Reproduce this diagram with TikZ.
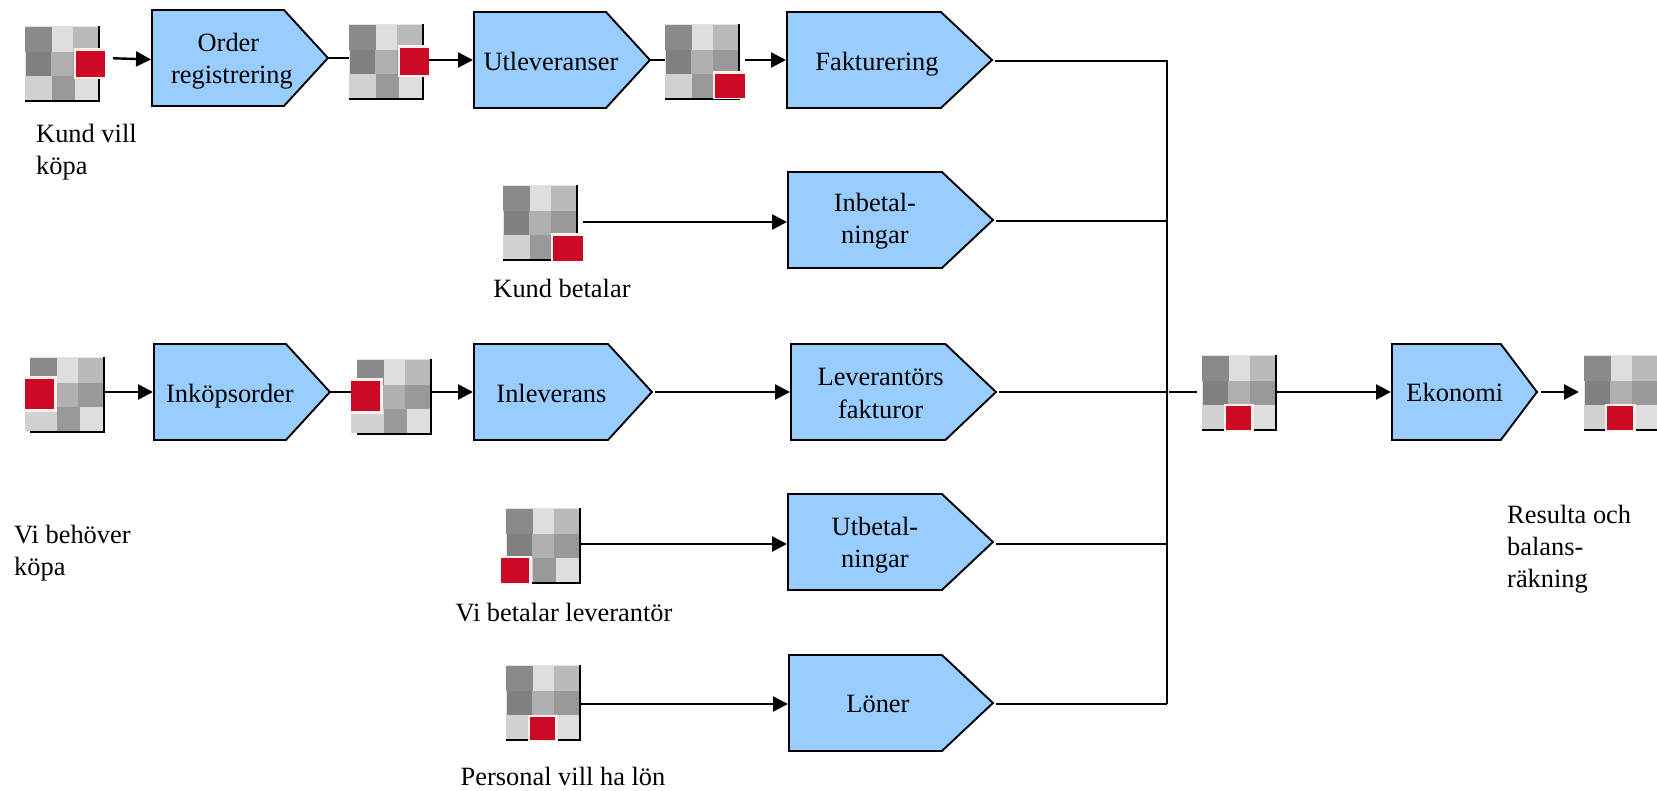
\documentclass[tikz,border=0pt]{standalone}
\usepackage{fontspec}
\setmainfont{Liberation Serif}
\usetikzlibrary{arrows.meta,shapes.symbols,fit}
\definecolor{blockblue}{HTML}{99CCFF}
\definecolor{iconred}{HTML}{CC0A26}
\definecolor{halo}{HTML}{FFF0EC}
\tikzset{
  x=1pt,y=-1pt,
  txt/.style={font=\fontsize{26.4}{32}\selectfont,inner sep=0pt,align=left},
  block/.style={signal,signal to=east,draw=black,fill=blockblue,line width=1.9pt,
    minimum height=96pt,inner sep=0pt,anchor=west,
    font=\fontsize{26.4}{32}\selectfont,line join=miter},
  link/.style={draw=black,line width=2.4pt},
  arr/.style={link,-{Triangle[length=15pt,width=15pt]}},
  iconnode/.style={inner sep=0pt,outer sep=0pt},
}
% text of a block: #1 shift right of the body centre, #2 height of first baseline above the axis, #3 lines
\newcommand{\blocktext}[3]{\raisebox{#2}[0pt][0pt]{\makebox[0pt][c]{\hspace*{\dimexpr 2\dimexpr #1\relax\relax}\begin{tabular}[t]{@{}c@{}}#3\end{tabular}}}}
% #1 name, #2 grid x, #3 grid y, #4,#5 red corner, #6,#7 red opposite corner
\newcommand{\riskicon}[7]{%
  \begin{scope}[shift={(#2,#3)}]
    \fill[gray!22] (0,0) rectangle (74,75);
    \fill[black!46] (0,1) rectangle (27,26);
    \fill[black!13] (27,1) rectangle (48,26);
    \fill[black!27] (48,1) rectangle (74,26);
    \fill[black!50] (1,26) rectangle (26,50);
    \fill[black!31] (26,26) rectangle (48,50);
    \fill[black!40] (48,26) rectangle (74,50);
    \fill[black!18] (0,50) rectangle (27,75);
    \fill[black!40] (27,50) rectangle (50,75);
    \fill[black!13] (50,50) rectangle (74,75);
    \draw[black,line width=1.8pt] (74,0) -- (74,75) -- (0,75);
  \end{scope}
  \node[iconnode,fit={(#2,#3) (#2+74,#3+75) (#4,#5) (#6,#7)}] (#1) {};
  \begin{scope}
    \clip (#1.north west) rectangle (#1.south east);
    \fill[halo] (#4-2.5,#5-2.5) rectangle (#6+2.5,#7+2.5);
    \fill[iconred] (#4,#5) rectangle (#6,#7);
  \end{scope}
}
\begin{document}
\begin{tikzpicture}
\useasboundingbox (0,0) rectangle (1657,791);
% extra light tile at the lower left of the two left-red icons
\fill[black!18] (25,409) rectangle (31,431);
\fill[black!18] (351,411) rectangle (358,433);
% icons
\riskicon{iA}{25}{26}{76}{51}{105}{77}
\riskicon{iB}{349}{24}{400}{48}{429}{75}
\riskicon{iC}{665}{24}{715}{74}{745}{98}
\riskicon{iD}{503}{185}{553}{236}{583}{261}
\riskicon{iE}{30}{357}{25}{379}{54}{409}
\riskicon{iF}{357}{359}{351}{381}{380}{411}
\riskicon{iG}{1202}{355}{1226}{406}{1251}{430}
\riskicon{iH}{1584}{355}{1607}{406}{1633}{430}
\riskicon{iI}{506}{508}{501}{558}{529}{583}
\riskicon{iJ}{506}{665}{530}{717}{555}{740}
% blocks
\node[block,minimum width=176pt,signal pointer angle=95] (bOrder) at (151,58) {\blocktext{14pt}{6pt}{Order\hspace*{7pt}\\registrering}};
\node[block,minimum width=176pt,signal pointer angle=95] (bUtlev) at (473,60) {\blocktext{11pt}{-10.5pt}{Utleveranser}};
\node[block,minimum width=205pt,signal pointer angle=86.5] (bFakt) at (786,60) {\blocktext{13pt}{-10.5pt}{Fakturering}};
\node[block,minimum width=205pt,signal pointer angle=86.5] (bInbet) at (787,220) {\blocktext{10pt}{8pt}{Inbetal-\\ningar}};
\node[block,minimum width=176pt,signal pointer angle=95] (bInkop) at (153,392) {\blocktext{10pt}{-10pt}{Inköpsorder}};
\node[block,minimum width=178pt,signal pointer angle=95] (bInlev) at (473,392) {\blocktext{10.5pt}{-10pt}{Inleverans}};
\node[block,minimum width=205pt,signal pointer angle=87] (bLev) at (790,392) {\blocktext{12.5pt}{6pt}{Leverantörs\\fakturor}};
\node[block,minimum width=205pt,signal pointer angle=86.5] (bUtbet) at (787,542) {\blocktext{10pt}{7pt}{Utbetal-\\ningar}};
\node[block,minimum width=204pt,signal pointer angle=86.5] (bLoner) at (788,703) {\blocktext{12.5pt}{-9pt}{Löner}};
\node[block,minimum width=145pt,signal pointer angle=106] (bEko) at (1391,392) {\blocktext{8.5pt}{-9pt}{Ekonomi}};
% labels
\node[txt,anchor=base west] (l1) at (36,175) {Kund vill\\köpa};
\node[txt,anchor=base] (l2) at (562,298) {Kund betalar};
\node[txt,anchor=base west] (l3) at (14,575) {Vi behöver\\köpa};
\node[txt,anchor=base] (l4) at (564,621) {Vi betalar leverantör};
\node[txt,anchor=base] (l5) at (563,785) {Personal vill ha lön};
\node[txt,anchor=base west] (l6) at (1507,587) {Resulta och\\balans-\\räkning};
% connectors
\coordinate (bus1) at (1167,61);
\coordinate (bus2) at (1167,704);
\draw[arr,shorten <=8pt] (iA.east |- bOrder.west) -- ([yshift=-1.5pt]bOrder.west);
\draw[link] (bOrder.east) -- (iB.west |- bOrder.east);
\draw[arr] (iB.east |- bUtlev.west) -- (bUtlev.west);
\draw[link] (bUtlev.east) -- (iC.west |- bUtlev.east);
\draw[arr] (iC.east |- bFakt.west) -- (bFakt.west);
\draw[arr] (iD.east |- 0,222) -- (bInbet.west |- 0,222);
\draw[arr] (iE.east |- bInkop.west) -- (bInkop.west);
\draw[link] (bInkop.east) -- (iF.west |- bInkop.east);
\draw[arr] (iF.east |- bInlev.west) -- (bInlev.west);
\draw[arr,shorten <=2pt] (bInlev.east) -- (bLev.west);
\draw[arr] (iI.east |- 0,544) -- (bUtbet.west |- 0,544);
\draw[arr] (iJ.east |- bus2) -- (bLoner.west |- bus2);
\draw[link,shorten <=2pt] (bFakt.east |- bus1) -- (bus1) -- (bus2);
\draw[link,shorten <=2pt] (bLoner.east |- bus2) -- (bus2);
\draw[link,shorten <=2pt] (bInbet.east |- 0,221) -- (bus1 |- 0,221);
\draw[link,shorten <=2pt] (bUtbet.east |- 0,544) -- (bus1 |- 0,544);
\draw[link,shorten <=2pt] (bLev.east) -- (bus1 |- bLev.east);
\draw[link,shorten <=2pt,shorten >=5.5pt] (bus1 |- bEko.west) -- (iG.west |- bEko.west);
\draw[arr] (iG.east |- bEko.west) -- (bEko.west);
\draw[arr,shorten <=3pt,shorten >=5pt] (bEko.east) -- (iH.west |- bEko.east);
\end{tikzpicture}
\end{document}
